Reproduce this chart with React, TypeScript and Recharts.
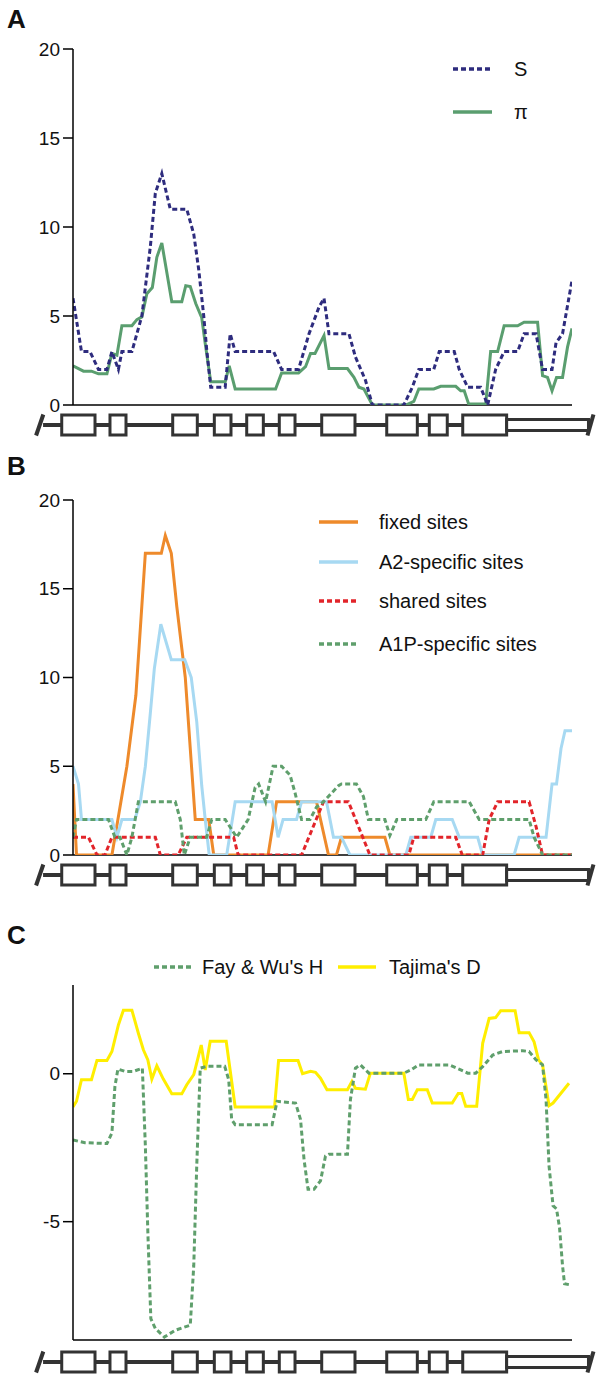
import React from "react";
import { LineChart, Line, XAxis, YAxis, ReferenceArea, ReferenceLine } from "recharts";

const FONT = '"Liberation Sans", Arial, Helvetica, sans-serif';

type Pt = [number, number];

// x = sliding-window position (0..100 along the plotted region)

// panel A
const segregatingS: Pt[] = [
  [0, 6], [1.7, 3], [3.4, 3], [5.1, 2], [6.8, 2], [7.8, 3], [9.1, 2], [9.8, 3], [11.8, 3], [13.8, 5],
  [15.5, 8.9], [16.5, 11.9], [17.8, 13], [19.5, 11], [22.8, 11], [24.2, 9.6], [25.2, 7.6], [26.2, 5],
  [26.8, 3.1], [27.6, 1], [30.5, 1], [31.5, 4], [32.5, 3], [40.2, 3], [41.8, 2], [45.2, 2], [47.3, 4],
  [49.3, 5.5], [50.3, 6], [51.3, 4], [55.3, 4], [56.6, 2.7], [58.6, 1.4], [60, 0], [66.3, 0], [68, 1],
  [69.3, 2], [72.3, 2], [73.4, 3], [76.4, 3], [77.4, 2], [79.1, 1], [81.7, 1], [83.1, 0], [84.7, 2],
  [86.4, 3], [89.1, 3], [90.4, 4], [92.8, 4], [94.1, 2], [96, 2], [96.8, 3.5], [98.1, 4], [100, 7],
];
const diversityPi: Pt[] = [
  [0, 2.2], [2.1, 1.9], [3.7, 1.9], [5.1, 1.75], [6.8, 1.75], [7.8, 2.9], [8.8, 2.8], [9.8, 4.45],
  [11.8, 4.45], [12.8, 4.8], [13.8, 4.95], [14.8, 6.25], [15.9, 6.6], [16.8, 8.3], [17.8, 9.1],
  [19.8, 5.8], [21.8, 5.8], [22.6, 6.7], [23.5, 6.65], [24.6, 5.7], [25.8, 4.9], [26.5, 3.45],
  [27.6, 1.3], [30.5, 1.3], [31.3, 2.2], [32.5, 0.9], [40.6, 0.9], [41.8, 1.8], [45.2, 1.8],
  [46.6, 2.15], [47.6, 2.9], [48.5, 2.9], [50.3, 3.9], [51.3, 2.05], [55, 2.05], [56.3, 1.55],
  [57.3, 1], [58.3, 0.9], [60, 0], [66.7, 0], [68.3, 0.2], [69.3, 0.9], [72.3, 0.9], [73.7, 1.05],
  [76.7, 1.05], [77.7, 0.8], [78.4, 0.8], [79.3, 0.05], [82.7, 0.05], [83.7, 3], [85.1, 3],
  [86.4, 4.45], [89.1, 4.45], [90.4, 4.65], [93.1, 4.65], [94.1, 1.65], [95.1, 1.55], [96, 0.8],
  [96.9, 1.55], [98.1, 1.55], [99.1, 3.25], [100, 4.3],
];

// panel B
const fixedSites: Pt[] = [
  [0, 4], [0.7, 0], [7.8, 0], [10.8, 5], [12.6, 9], [14.5, 17], [17.7, 17], [18.5, 18], [19.7, 17],
  [20.8, 14], [22.5, 10], [24.5, 2], [27.2, 2], [28.2, 0], [39.1, 0], [40.8, 3], [48.8, 3],
  [51.2, 0], [52.8, 0], [53.8, 1], [62.5, 1], [63.5, 0], [100, 0],
];
const a2Sites: Pt[] = [
  [0, 5], [1.1, 4], [1.7, 2], [7.8, 2], [8.8, 1], [9.8, 2], [12.4, 2], [13.5, 3], [14.5, 5],
  [15.5, 8], [16.3, 10.5], [17.6, 13], [19.7, 11], [22.4, 11], [23.7, 10], [24.8, 7.5], [25.8, 3.9],
  [26.5, 2], [27.3, 0], [30.8, 0], [32.5, 3], [39.9, 3], [41.1, 1], [42.1, 2], [44.8, 2], [45.8, 3],
  [50.8, 3], [52.2, 1], [53.8, 1], [55.5, 0], [66.7, 0], [67.7, 1], [71.7, 1], [72.7, 2], [76, 2],
  [77.4, 1], [81.1, 1], [82.1, 0], [88.4, 0], [89.4, 1], [94.8, 1], [96, 4], [96.9, 4], [97.8, 6],
  [98.6, 7], [100, 7],
];
const sharedSites: Pt[] = [
  [0, 1], [3.1, 1], [4.8, 0], [6.4, 0], [7.8, 1], [16.5, 1], [17.5, 0], [21.1, 0], [22.8, 1],
  [32.2, 1], [33.1, 0], [45.8, 0], [50.2, 3], [55.2, 3], [59.5, 0], [67.3, 0], [68.3, 1], [76.7, 1],
  [78, 0], [82.1, 0], [83.4, 2], [85.1, 3], [91.4, 3], [92.8, 1.6], [94.1, 0], [100, 0],
];
const a1pSites: Pt[] = [
  [0, 1], [0.7, 2], [7.1, 2], [8.4, 1], [9.4, 1], [10.8, 0], [11.8, 1], [13.1, 3], [20.5, 3],
  [21.5, 2], [22.3, 0], [23.5, 1], [26.8, 1], [27.8, 2], [30.5, 2], [32.8, 1], [35.1, 2], [36.5, 3.8],
  [37.2, 4], [38.6, 3], [40.1, 5], [41.8, 5], [43.5, 4.5], [44.5, 3.5], [45.8, 2], [47.5, 2],
  [48.8, 2.7], [50.2, 3], [53.2, 3.9], [53.8, 4], [56.8, 4], [58.2, 3.3], [59.2, 2], [62.5, 2],
  [63.5, 1.1], [64.9, 2], [70.7, 2], [72.3, 3], [79.4, 3], [81.4, 2], [91.4, 2], [92.4, 1],
  [94.1, 0], [100, 0],
];

// panel C
const fayWuH: Pt[] = [
  [0, -2.24], [2.4, -2.33], [6.8, -2.36], [7.8, -2], [8.4, -0.43], [9, 0.16], [10.4, 0.08],
  [12.1, 0.08], [13.9, 0.19], [14.5, -2.44], [15, -5.36], [15.6, -8.28], [16.5, -8.61], [18.3, -8.9],
  [20.5, -8.67], [23.5, -8.5], [24.2, -6.48], [24.8, -3.1], [25.5, 0.19], [26.8, 0.25], [30.4, 0.25],
  [31.2, -0.2], [31.8, -1.55], [32.5, -1.72], [39.9, -1.72], [40.9, -0.93], [44.6, -0.99],
  [45.6, -1.55], [46.3, -2.9], [47.1, -3.9], [48.3, -3.9], [49.6, -3.62], [50.6, -2.78],
  [51.3, -2.72], [55, -2.72], [55.6, -0.87], [56.6, 0.19], [57.6, 0.3], [59.3, 0.02], [66.3, 0.02],
  [67.7, 0.13], [69.3, 0.3], [75.4, 0.3], [77.7, 0.13], [79.1, 0.02], [80.7, 0.02], [82.1, 0.24],
  [84.1, 0.63], [86.1, 0.75], [90.1, 0.78], [91.4, 0.75], [92.8, 0.47], [94.1, 0.3], [94.8, -0.87],
  [95.4, -3.12], [96.2, -4.46], [96.9, -4.57], [97.5, -5.2], [98.1, -6.48], [98.5, -7.1], [99.4, -7.13],
];
const tajimaD: Pt[] = [
  [0, -1.12], [0.7, -0.93], [1.7, -0.2], [3.7, -0.2], [4.8, 0.45], [6.8, 0.45], [7.8, 0.75],
  [9.1, 1.65], [10.1, 2.15], [11.8, 2.15], [13.1, 1.37], [14.1, 0.81], [15, 0.47], [15.8, -0.18],
  [16.8, 0.27], [18.1, -0.18], [19.8, -0.68], [21.8, -0.68], [22.8, -0.37], [24.2, -0.03],
  [25.7, 0.97], [26.5, 0.13], [27.5, 1.1], [30.7, 1.1], [32.5, -1.12], [40.4, -1.12], [41.2, 0.45],
  [45.1, 0.45], [46, 0], [47.6, 0.08], [48.6, 0.05], [49.6, -0.15], [50.9, -0.54], [55, -0.54],
  [55.9, -0.26], [56.6, -0.49], [58.6, -0.52], [59.6, 0.02], [66.3, 0.02], [67.2, -0.87], [68, -0.87],
  [69, -0.54], [71, -0.54], [72, -0.99], [76, -0.99], [77.2, -0.67], [77.9, -0.67], [78.7, -1.1],
  [80.9, -1.1], [82.1, 1.03], [83.4, 1.87], [84.7, 1.9], [85.7, 2.13], [88.6, 2.13], [89.4, 1.39],
  [91.4, 1.39], [92.4, 1.08], [93.3, 0.47], [94.1, 0.3], [95.4, -1.08], [96.2, -0.99], [99.4, -0.32],
];

const ticksAB = [0, 5, 10, 15, 20];
const ticksC = [0, -5];

// gene model, same x units as the windows
const exons: Pt[] = [
  [-2.26, 4.41], [7.41, 10.62], [19.98, 24.91], [28.32, 31.66], [34.81, 38.14],
  [41.34, 44.49], [49.84, 56.51], [62.87, 69.0], [71.4, 75.0], [78.1, 86.9],
];
const utr: Pt = [86.9, 103.3];
const backboneStart = -6;
const breakLeft: Pt = [-7.4, -5.95];
const breakRight: Pt = [103.1, 104.3];

const toRows = (pts: Pt[]) => pts.map(([x, y]) => ({ x, y }));

// intron segments: from the break to exon 1, then between consecutive exons
const intronGaps: Pt[] = [
  [backboneStart, exons[0][0]],
  ...exons.slice(1).map((e, i) => [exons[i][1], e[0]] as Pt),
];
const intronRows = intronGaps.flatMap(([a, b]) => [
  { x: a, y: 0 as number | null },
  { x: b, y: 0 as number | null },
  { x: b, y: null },
]);

interface Series {
  name: string;
  points: Pt[];
  color: string;
  dashed?: boolean;
}

function Track({ top, marginTop, domain, ticks, series }: {
  top: number; marginTop: number; domain: [number, number]; ticks: number[]; series: Series[];
}) {
  return (
    <div style={{ position: "absolute", left: 0, top }}>
      <LineChart width={605} height={420} margin={{ top: marginTop, right: 33, bottom: 15, left: 0 }}>
        <XAxis type="number" dataKey="x" domain={[0, 100]} allowDataOverflow hide />
        <YAxis
          type="number"
          domain={domain}
          ticks={ticks}
          interval={0}
          allowDataOverflow
          width={73}
          tickSize={10}
          tickMargin={3}
          axisLine={{ stroke: "#000", strokeWidth: 1.5 }}
          tickLine={{ stroke: "#000", strokeWidth: 1.5 }}
          tick={{ fill: "#111", fontSize: 19, fontFamily: FONT }}
        />
        <ReferenceLine y={domain[0]} stroke="#000" strokeWidth={1.5} />
        {series.map((s) => (
          <Line
            key={s.name}
            data={toRows(s.points)}
            dataKey="y"
            type="linear"
            stroke={s.color}
            strokeWidth={3}
            strokeDasharray={s.dashed ? "5 3" : undefined}
            dot={false}
            activeDot={false}
            isAnimationActive={false}
          />
        ))}
      </LineChart>
    </div>
  );
}

function GeneModel({ center }: { center: number }) {
  const ink = "#333";
  return (
    <div style={{ position: "absolute", left: 0, top: center - 15 }}>
      <LineChart width={605} height={30} margin={{ top: 0, right: 0, bottom: 0, left: 0 }}>
        <XAxis type="number" dataKey="x" domain={[-14.63, 106.61]} hide allowDataOverflow />
        <YAxis type="number" domain={[-15, 15]} hide allowDataOverflow />
        <Line data={intronRows} dataKey="y" stroke={ink} strokeWidth={4} dot={false} activeDot={false} connectNulls={false} isAnimationActive={false} />
        <Line
          data={[{ x: breakLeft[0], y: -10.5 }, { x: breakLeft[1], y: 10.5 }]}
          dataKey="y" stroke={ink} strokeWidth={4} dot={false} activeDot={false} isAnimationActive={false}
        />
        <Line
          data={[{ x: breakRight[0], y: -10.5 }, { x: breakRight[1], y: 10.5 }]}
          dataKey="y" stroke={ink} strokeWidth={4} dot={false} activeDot={false} isAnimationActive={false}
        />
        {exons.map(([a, b]) => (
          <ReferenceArea key={a} x1={a} x2={b} y1={-10} y2={10} fill="#fff" fillOpacity={1} stroke={ink} strokeWidth={3} />
        ))}
        <ReferenceArea x1={utr[0]} x2={utr[1]} y1={-5.5} y2={5.5} fill="#fff" fillOpacity={1} stroke={ink} strokeWidth={3} />
      </LineChart>
    </div>
  );
}

function Key({ x, y, len, color, dashed, label, textX }: {
  x: number; y: number; len: number; color: string; dashed?: boolean; label: string; textX: number;
}) {
  return (
    <>
      <svg style={{ position: "absolute", left: x, top: y - 3 }} width={len} height={6}>
        <line x1={0} y1={3} x2={len} y2={3} stroke={color} strokeWidth={3.5} strokeDasharray={dashed ? "5 3" : undefined} />
      </svg>
      <div style={{ position: "absolute", left: textX, top: y - 12, lineHeight: "24px", fontSize: 20, whiteSpace: "nowrap", color: "#111" }}>
        {label}
      </div>
    </>
  );
}

const panelLabel = (text: string, top: number) => (
  <div style={{ position: "absolute", left: 7, top, fontSize: 26, fontWeight: "bold", lineHeight: "26px" }}>{text}</div>
);

export default function App() {
  const seriesA: Series[] = [
    { name: "pi", points: diversityPi, color: "#5a9e6f" },
    { name: "S", points: segregatingS, color: "#2e2c7e", dashed: true },
  ];
  const seriesB: Series[] = [
    { name: "fixed", points: fixedSites, color: "#ee8a2b" },
    { name: "a2", points: a2Sites, color: "#a7d9f2" },
    { name: "shared", points: sharedSites, color: "#e2242a", dashed: true },
    { name: "a1p", points: a1pSites, color: "#5f9f6c", dashed: true },
  ];
  const seriesC: Series[] = [
    { name: "D", points: tajimaD, color: "#ffee00" },
    { name: "H", points: fayWuH, color: "#5f9f6c", dashed: true },
  ];

  return (
    <div style={{ position: "absolute", left: 0, top: 0, width: 605, height: 1379, background: "#fff", fontFamily: FONT, color: "#111" }}>
      {panelLabel("A", 6)}
      <Track top={0} marginTop={49} domain={[0, 20]} ticks={ticksAB} series={seriesA} />
      <Key x={453} y={69} len={39} color="#2e2c7e" dashed label="S" textX={514} />
      <Key x={453} y={112} len={39} color="#5a9e6f" label="π" textX={514} />
      <GeneModel center={425} />

      {panelLabel("B", 453)}
      <Track top={450} marginTop={50} domain={[0, 20]} ticks={ticksAB} series={seriesB} />
      <Key x={319} y={522} len={39} color="#ee8a2b" label="fixed sites" textX={379} />
      <Key x={319} y={562} len={39} color="#a7d9f2" label="A2-specific sites" textX={379} />
      <Key x={319} y={601} len={39} color="#e2242a" dashed label="shared sites" textX={379} />
      <Key x={319} y={644} len={39} color="#5f9f6c" dashed label="A1P-specific sites" textX={379} />
      <GeneModel center={875} />

      {panelLabel("C", 922)}
      <Track top={935} marginTop={50} domain={[-9, 3]} ticks={ticksC} series={seriesC} />
      <Key x={154} y={967} len={37} color="#5f9f6c" dashed label="Fay & Wu's H" textX={202} />
      <Key x={338} y={967} len={38} color="#ffee00" label="Tajima's D" textX={389} />
      <GeneModel center={1362} />
    </div>
  );
}
